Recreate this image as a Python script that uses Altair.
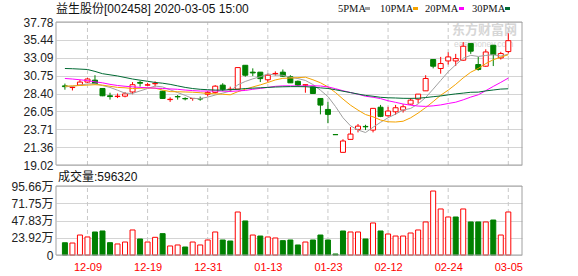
import altair as alt
import pandas as pd

# ---------------- data ----------------
dates = ['12-04', '12-05', '12-06', '12-09', '12-10', '12-11', '12-12', '12-13', '12-16', '12-17',
         '12-18', '12-19', '12-20', '12-23', '12-24', '12-25', '12-26', '12-27', '12-30', '12-31',
         '01-02', '01-03', '01-06', '01-07', '01-08', '01-09', '01-10', '01-13', '01-14', '01-15',
         '01-16', '01-17', '01-20', '01-21', '01-22', '01-23', '02-03', '02-04', '02-05', '02-06',
         '02-07', '02-10', '02-11', '02-12', '02-13', '02-14', '02-17', '02-18', '02-19', '02-20',
         '02-21', '02-24', '02-25', '02-26', '02-27', '02-28', '03-02', '03-03', '03-04', '03-05']

opens = [29.40, 29.18, 29.50, 29.90, 30.15, 29.06, 28.10, 28.00, 28.05, 28.60,
         29.85, 29.50, 29.68, 28.70, 27.60, 28.00, 27.74, 27.74, 27.72, 28.30,
         28.55, 29.50, 28.93, 28.97, 32.10, 31.20, 31.20, 30.20, 30.98, 31.20,
         30.60, 30.00, 29.50, 29.27, 27.75, 26.31, 23.01, 20.68, 22.38, 23.69,
         24.08, 23.60, 26.60, 25.48, 26.00, 26.22, 27.00, 27.66, 28.75, 32.86,
         31.68, 32.67, 32.67, 32.77, 34.95, 32.20, 31.98, 34.73, 33.07, 33.90]
highs = [29.70, 29.30, 30.20, 30.45, 30.80, 29.10, 28.50, 28.40, 28.60, 29.90,
         30.05, 29.80, 30.00, 28.75, 27.90, 28.20, 27.90, 27.78, 28.00, 28.70,
         29.50, 29.75, 29.30, 31.80, 32.10, 31.70, 31.20, 31.00, 31.30, 31.55,
         30.80, 30.10, 29.55, 29.30, 27.80, 27.30, 23.01, 22.40, 24.00, 24.40,
         24.30, 26.45, 26.90, 26.65, 26.90, 27.00, 27.80, 28.32, 30.80, 32.86,
         33.20, 33.80, 33.60, 35.15, 34.95, 33.20, 34.20, 34.73, 33.87, 36.30]
lows = [28.90, 28.80, 29.40, 29.80, 29.60, 28.05, 27.60, 27.80, 27.90, 28.30,
        29.30, 29.40, 29.30, 27.70, 27.30, 27.60, 27.50, 27.45, 27.45, 28.00,
        28.40, 28.70, 28.60, 28.90, 30.60, 30.70, 29.90, 29.90, 30.75, 30.58,
        29.80, 29.30, 28.50, 28.40, 25.66, 24.50, 23.00, 20.68, 22.38, 23.30,
        23.60, 23.30, 25.30, 25.35, 25.60, 25.90, 26.90, 27.10, 28.75, 31.70,
        31.00, 32.20, 32.00, 32.70, 33.60, 31.40, 31.90, 32.00, 32.86, 33.64]
closes = [29.30, 29.22, 29.90, 30.30, 29.70, 28.10, 28.00, 28.05, 28.35, 29.55,
          29.75, 29.54, 29.72, 27.75, 27.64, 27.96, 27.70, 27.76, 27.68, 28.55,
          29.36, 28.95, 28.97, 31.80, 30.80, 31.10, 30.35, 30.80, 31.03, 30.67,
          29.80, 29.50, 29.55, 28.40, 26.88, 25.66, 23.00, 22.17, 23.08, 24.12,
          24.03, 26.45, 25.40, 26.10, 26.53, 26.66, 27.53, 28.32, 30.37, 31.98,
          32.33, 33.20, 32.98, 34.60, 33.95, 31.55, 33.85, 33.50, 33.64, 35.33]

# volume in 万 (10k shares)
volumes = [17.0, 16.6, 27.7, 25.0, 31.9, 33.3, 17.1, 15.3, 18.0, 34.7,
           22.2, 18.0, 24.5, 29.6, 12.5, 13.9, 11.1, 18.0, 13.9, 20.8,
           31.9, 20.8, 19.4, 59.6, 47.2, 27.7, 26.3, 25.0, 23.6, 19.9,
           20.8, 13.9, 18.0, 20.8, 27.7, 20.8, 1.4, 33.3, 31.9, 31.9,
           22.2, 44.4, 33.3, 29.1, 26.3, 26.3, 30.5, 34.7, 45.8, 88.7,
           63.8, 52.7, 52.7, 63.8, 45.8, 45.8, 45.8, 48.5, 27.7, 59.632]
vol_dir = ['d', 'u', 'u', 'u', 'd', 'd', 'd', 'u', 'u', 'u',
           'd', 'u', 'u', 'd', 'u', 'u', 'd', 'u', 'u', 'u',
           'u', 'd', 'd', 'u', 'd', 'u', 'd', 'u', 'u', 'd',
           'd', 'd', 'u', 'd', 'd', 'd', 'd', 'd', 'u', 'u',
           'd', 'u', 'd', 'u', 'u', 'u', 'u', 'u', 'u', 'u',
           'u', 'u', 'd', 'u', 'd', 'd', 'u', 'd', 'u', 'u']

ma5 = [29.30, 29.35, 29.50, 29.65, 29.68, 29.44, 29.20, 28.83, 28.44, 28.41,
       28.74, 29.05, 29.38, 29.26, 28.88, 28.52, 28.15, 27.75, 27.74, 27.92,
       28.20, 28.45, 28.71, 29.53, 29.98, 30.32, 30.60, 30.97, 30.82, 30.79,
       30.53, 30.36, 30.11, 29.58, 28.83, 28.00, 26.70, 25.22, 24.16, 23.61,
       23.28, 23.97, 24.62, 25.22, 25.70, 26.23, 26.44, 27.03, 27.88, 28.97,
       30.11, 31.24, 32.17, 33.02, 33.41, 33.26, 33.39, 33.49, 33.30, 33.57]
ma10 = [29.36, 29.40, 29.45, 29.50, 29.55, 29.50, 29.35, 29.20, 29.15, 29.05,
        29.09, 29.13, 29.10, 28.85, 28.65, 28.63, 28.60, 28.57, 28.50, 28.40,
        28.36, 28.30, 28.23, 28.63, 28.95, 29.26, 29.53, 29.84, 30.18, 30.39,
        30.43, 30.48, 30.54, 30.20, 29.81, 29.27, 28.53, 27.67, 26.87, 26.22,
        25.64, 25.34, 24.92, 24.69, 24.66, 24.76, 25.21, 25.83, 26.55, 27.34,
        28.17, 28.84, 29.60, 30.45, 31.19, 31.69, 32.32, 32.83, 33.16, 33.49]
ma20 = [30.37, 30.30, 30.20, 30.10, 29.93, 29.80, 29.60, 29.45, 29.35, 29.27,
        29.20, 29.15, 29.10, 29.06, 29.00, 28.95, 28.85, 28.78, 28.72, 28.73,
        28.73, 28.72, 28.67, 28.74, 28.80, 28.95, 29.07, 29.20, 29.34, 29.40,
        29.40, 29.39, 29.39, 29.42, 29.38, 29.27, 29.03, 28.76, 28.53, 28.30,
        28.04, 27.91, 27.73, 27.45, 27.24, 27.02, 26.87, 26.75, 26.71, 26.78,
        26.90, 27.09, 27.26, 27.57, 27.93, 28.23, 28.77, 29.33, 29.86, 30.42]
ma30 = [31.68, 31.65, 31.60, 31.55, 31.30, 31.00, 30.85, 30.70, 30.50, 30.30,
        30.15, 30.00, 29.85, 29.75, 29.60, 29.40, 29.20, 29.05, 28.95, 28.90,
        28.85, 28.85, 28.90, 28.95, 29.05, 29.10, 29.15, 29.20, 29.25, 29.28,
        29.30, 29.30, 29.29, 29.23, 29.14, 29.06, 28.89, 28.70, 28.52, 28.33,
        28.15, 28.04, 27.90, 27.84, 27.81, 27.77, 27.76, 27.78, 27.87, 27.98,
        28.08, 28.22, 28.35, 28.45, 28.56, 28.58, 28.74, 28.86, 28.98, 29.02]

price_ticks = [19.02, 21.36, 23.71, 26.05, 28.40, 30.75, 33.09, 35.44, 37.78]
vol_ticks = [0, 23.92, 47.83, 71.75, 95.66]
date_ticks = ['12-09', '12-19', '12-31', '01-13', '01-23', '02-12', '02-24', '03-05']
title_text = '益生股份[002458] 2020-03-05 15:00'
vol_text = '成交量:596320'
ma_names = ['5PMA', '10PMA', '20PMA', '30PMA']
ma_colors = ['#a0a0a0', '#f5a300', '#ff00ff', '#006a33']
wm_cn = '东方财富网'
wm_en = 'eastmoney.com'

# ---------------- geometry ----------------
W, PH, GAP, VH = 466, 143, 21, 69
H = PH + GAP + VH
STEP = 7.68
FIRST = 4.0
x_lo = -FIRST / STEP
x_hi = (W - FIRST) / STEP

n = len(dates)
idx = list(range(n))
cdf = pd.DataFrame({'i': idx, 'date': dates, 'o': opens, 'h': highs, 'l': lows, 'c': closes})
cdf['dir'] = ['up' if c >= o else 'down' for o, c in zip(opens, closes)]
vdf = pd.DataFrame({'i': idx, 'v': volumes, 'dir': ['up' if d == 'u' else 'down' for d in vol_dir]})
madf = pd.concat([pd.DataFrame({'i': idx, 'ma': nm, 'val': vals})
                  for nm, vals in zip(ma_names, [ma5, ma10, ma20, ma30])], ignore_index=True)
tick_idx = [dates.index(d) for d in date_ticks]
gdf = pd.DataFrame({'i': tick_idx, 'plo': price_ticks[0], 'phi': price_ticks[-1],
                    'vlo': vol_ticks[0], 'vhi': vol_ticks[-1]})

LATIN = 'Liberation Sans'
MIXED = 'Liberation Sans, Noto Sans CJK SC'
LBL = '#222222'
GRID = '#d4d4d4'
FRAME = '#a0a0a0'
RED = '#ff0000'
GREEN = '#008000'

label_expr = '[' + ','.join("'%s'" % d for d in dates) + '][datum.value]'
xscale = alt.Scale(domain=[x_lo, x_hi], nice=False, zero=False)
xaxis = alt.Axis(values=tick_idx, labelExpr=label_expr, grid=False, domain=False, ticks=False,
                 labelColor=RED, labelFont=LATIN, labelFontSize=11, labelPadding=6,
                 title=None, labelOverlap=False, labelFlush=False)


def X(field):
    return alt.X(field, scale=xscale, axis=xaxis)


pscale = alt.Scale(domain=[price_ticks[0], price_ticks[-1]], range=[PH, 0], nice=False, zero=False)
paxis = alt.Axis(values=price_ticks, format='.2f', orient='left', grid=True, gridColor=GRID,
                 domain=False, ticks=False, labelPadding=3, labelFont=LATIN, labelFontSize=12,
                 labelColor=LBL, title=None, labelOverlap=False, labelFlush=False)
vscale = alt.Scale(domain=[vol_ticks[0], vol_ticks[-1]], range=[H, PH + GAP], nice=False, zero=False)
vaxis = alt.Axis(values=vol_ticks, orient='left', grid=True, gridColor=GRID, domain=False, ticks=False,
                 labelPadding=3, labelFont=MIXED, labelFontSize=12, labelColor=LBL, title=None,
                 labelOverlap=False, labelFlush=False,
                 labelExpr="datum.value == 0 ? '0' : format(datum.value, '.2f') + '万'")


def PY(field):
    return alt.Y(field, scale=pscale, axis=paxis)


def VY(field):
    return alt.Y(field, scale=vscale, axis=vaxis)


fill_scale = alt.Scale(domain=['up', 'down'], range=['#ffffff', GREEN])
stroke_scale = alt.Scale(domain=['up', 'down'], range=[RED, GREEN])
one = pd.DataFrame({'k': [0]})

# ---------------- price panel ----------------
wm1 = alt.Chart(one).mark_text(align='left', baseline='middle', font='Noto Sans CJK SC',
                               fontSize=13, fontWeight='bold', color='#d6d6d6').encode(
    x=alt.value(396), y=alt.value(8), text=alt.value(wm_cn))
wm2 = alt.Chart(one).mark_text(align='left', baseline='middle', font=LATIN,
                               fontSize=8.5, color='#d6d6d6').encode(
    x=alt.value(398), y=alt.value(21.5), text=alt.value(wm_en))

pgrid = alt.Chart(gdf).mark_rule(strokeDash=[4, 3], color='#c8c8c8', strokeWidth=1).encode(
    x=X('i:Q'), y=PY('plo:Q'), y2='phi:Q')

wick = alt.Chart(cdf).mark_rule(strokeWidth=1).encode(
    x=X('i:Q'), y=PY('l:Q'), y2='h:Q',
    stroke=alt.Stroke('dir:N', scale=stroke_scale, legend=None))
body = alt.Chart(cdf).mark_bar(size=5, strokeWidth=1).encode(
    x=X('i:Q'), y=PY('o:Q'), y2='c:Q',
    fill=alt.Fill('dir:N', scale=fill_scale, legend=None),
    stroke=alt.Stroke('dir:N', scale=stroke_scale, legend=None))
lines = alt.Chart(madf).mark_line(strokeWidth=1).encode(
    x=X('i:Q'), y=PY('val:Q'),
    color=alt.Color('ma:N', scale=alt.Scale(domain=ma_names, range=ma_colors), legend=None),
    order=alt.Order('i:Q'))
pframe = alt.Chart(one).mark_rect(fillOpacity=0, stroke=FRAME, strokeWidth=1).encode(
    x=alt.value(0), x2=alt.value(W), y=alt.value(0), y2=alt.value(PH))

title = alt.Chart(one).mark_text(align='left', baseline='middle', font=MIXED, fontSize=12,
                                 color='#111111').encode(
    x=alt.value(0), y=alt.value(-13.5), text=alt.value(title_text))

legend_layers = []
leg_text_x = [282, 324, 369, 416]
leg_sq_x = [309, 357, 403, 449]
for nm, col, tx, sx in zip(ma_names, ma_colors, leg_text_x, leg_sq_x):
    legend_layers.append(alt.Chart(one).mark_text(align='left', baseline='middle',
                                                  font='Liberation Serif', fontSize=10.5,
                                                  color='#111111').encode(
        x=alt.value(tx), y=alt.value(-13.5), text=alt.value(nm)))
    legend_layers.append(alt.Chart(one).mark_rect(color=col).encode(
        x=alt.value(sx), x2=alt.value(sx + 5), y=alt.value(-15), y2=alt.value(-12)))

price = alt.layer(wm1, wm2, pgrid, wick, body, lines, pframe, title, *legend_layers)

# ---------------- volume panel ----------------
vgrid = alt.Chart(gdf).mark_rule(strokeDash=[4, 3], color='#c8c8c8', strokeWidth=1).encode(
    x=X('i:Q'), y=VY('vlo:Q'), y2='vhi:Q')
vbars = alt.Chart(vdf).mark_bar(size=5, strokeWidth=1).encode(
    x=X('i:Q'), y=VY('v:Q'),
    fill=alt.Fill('dir:N', scale=fill_scale, legend=None),
    stroke=alt.Stroke('dir:N', scale=stroke_scale, legend=None))
vframe = alt.Chart(one).mark_rect(fillOpacity=0, stroke=FRAME, strokeWidth=1).encode(
    x=alt.value(0), x2=alt.value(W), y=alt.value(PH + GAP), y2=alt.value(H))
vtitle = alt.Chart(one).mark_text(align='left', baseline='middle', font=MIXED, fontSize=12,
                                  color='#111111').encode(
    x=alt.value(2), y=alt.value(PH + 12), text=alt.value(vol_text))

volume = alt.layer(vgrid, vbars, vframe, vtitle)

chart = alt.layer(price, volume).resolve_scale(y='independent').properties(
    width=W, height=H,
    autosize=alt.AutoSizeParams(type='none'),
    padding={'left': 56, 'top': 22, 'right': 56, 'bottom': 21},
    background='white',
).configure_view(stroke=None)

chart.save('out.html', embed_options={'renderer': 'svg', 'actions': False})
